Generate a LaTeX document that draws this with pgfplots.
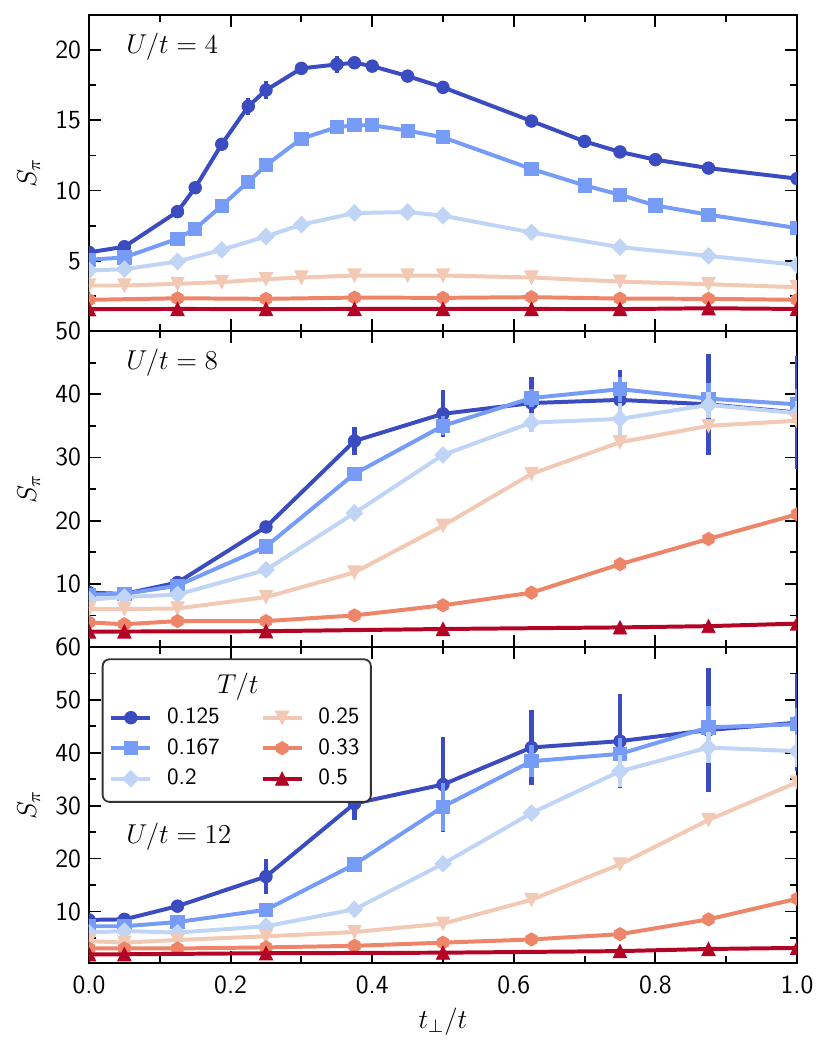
\documentclass[border=0pt]{standalone}
\usepackage{pgfplots}
\pgfplotsset{compat=1.18}
\definecolor{c1}{RGB}{59,76,192}
\definecolor{c2}{RGB}{118,156,248}
\definecolor{c3}{RGB}{192,212,245}
\definecolor{c4}{RGB}{242,201,180}
\definecolor{c5}{RGB}{238,132,104}
\definecolor{c6}{RGB}{180,4,38}
\pgfdeclareplotmark{hexagon*}{%
 \pgfpathmoveto{\pgfqpointpolar{90}{\pgfplotmarksize}}%
 \pgfpathlineto{\pgfqpointpolar{150}{\pgfplotmarksize}}%
 \pgfpathlineto{\pgfqpointpolar{210}{\pgfplotmarksize}}%
 \pgfpathlineto{\pgfqpointpolar{270}{\pgfplotmarksize}}%
 \pgfpathlineto{\pgfqpointpolar{330}{\pgfplotmarksize}}%
 \pgfpathlineto{\pgfqpointpolar{30}{\pgfplotmarksize}}%
 \pgfpathclose\pgfusepathqfillstroke}
\pgfdeclareplotmark{Diamond*}{%
 \pgfpathmoveto{\pgfqpoint{0pt}{\pgfplotmarksize}}%
 \pgfpathlineto{\pgfqpoint{\pgfplotmarksize}{0pt}}%
 \pgfpathlineto{\pgfqpoint{0pt}{-\pgfplotmarksize}}%
 \pgfpathlineto{\pgfqpoint{-\pgfplotmarksize}{0pt}}%
 \pgfpathclose\pgfusepathqfillstroke}
\pgfdeclareplotmark{tridown*}{%
 \pgfpathmoveto{\pgfqpoint{0pt}{-\pgfplotmarksize}}%
 \pgfpathlineto{\pgfqpoint{\pgfplotmarksize}{\pgfplotmarksize}}%
 \pgfpathlineto{\pgfqpoint{-\pgfplotmarksize}{\pgfplotmarksize}}%
 \pgfpathclose\pgfusepathqfillstroke}
\pgfdeclareplotmark{triup*}{%
 \pgfpathmoveto{\pgfqpoint{0pt}{\pgfplotmarksize}}%
 \pgfpathlineto{\pgfqpoint{\pgfplotmarksize}{-\pgfplotmarksize}}%
 \pgfpathlineto{\pgfqpoint{-\pgfplotmarksize}{-\pgfplotmarksize}}%
 \pgfpathclose\pgfusepathqfillstroke}
\pgfplotsset{
 b1/.style={color=c1, line width=1.75pt, mark=*, mark size=2.75pt, mark options={solid, fill=c1, line width=0.4pt, sharp corners}},
 b2/.style={color=c2, line width=1.75pt, mark=square*, mark size=2.9pt, mark options={solid, fill=c2, line width=0.4pt, sharp corners}},
 b3/.style={color=c3, line width=1.75pt, mark=Diamond*, mark size=3.6pt, mark options={solid, fill=c3, line width=0.4pt, sharp corners}},
 b4/.style={color=c4, line width=1.75pt, mark=tridown*, mark size=2.9pt, mark options={solid, fill=c4, line width=0.4pt, sharp corners}},
 b5/.style={color=c5, line width=1.75pt, mark=hexagon*, mark size=2.9pt, mark options={solid, fill=c5, line width=0.4pt, sharp corners}},
 b6/.style={color=c6, line width=1.75pt, mark=triup*, mark size=2.9pt, mark options={solid, fill=c6, line width=0.4pt, sharp corners}},
 eb/.style={/pgfplots/error bars/y dir=both, /pgfplots/error bars/y explicit, /pgfplots/error bars/error mark=none, /pgfplots/error bars/error bar style={line width=1.8pt, solid}},
 panel/.style={
  width=311.52pt, height=139.04pt, scale only axis,
  xmin=0, xmax=1,
  xtick={0,0.2,0.4,0.6,0.8,1.0},
  minor xtick={0.1,0.3,0.5,0.7,0.9},
  tick align=inside,
  major tick length=5.3pt, minor tick length=3pt,
  tick style={black, line width=0.8pt},
  axis line style={line width=0.8pt},
  /pgf/number format/assume math mode=true,
  ticklabel style={font=\sffamily\fontsize{11.5}{13}\selectfont},
  xticklabel style={yshift=-2pt, /pgf/number format/.cd, fixed, fixed zerofill, precision=1},
  ylabel={$S_\pi$},
  ylabel style={at={(axis description cs:-0.085,0.5)}, anchor=center, font=\fontsize{12}{14}\selectfont},
  clip marker paths=true,
  anchor=north west,
 },
}
\begin{document}
\begin{tikzpicture}
\useasboundingbox (-39.16pt,6.6pt) rectangle (326.48pt,-457.6pt);
% ---------- U/t = 4
\begin{axis}[panel, at={(0pt,0pt)}, ymin=0, ymax=22.5,
  ytick={5,10,15,20}, minor ytick={2.5,7.5,12.5,17.5}, xticklabels={}]
\addplot[b1, eb] table[row sep=\\, x=x, y=y, y error=e] {x y e\\
0 5.6 0.15\\ 0.05 6.0 0.15\\ 0.125 8.5 0.15\\ 0.15 10.2 0.15\\ 0.1875 13.3 0.2\\
0.225 16.0 0.6\\ 0.25 17.15 0.65\\ 0.3 18.7 0.45\\ 0.35 18.98 0.6\\ 0.375 19.1 0.35\\
0.4 18.86 0.2\\ 0.45 18.15 0.4\\ 0.5 17.35 0.2\\ 0.625 14.95 0.2\\ 0.7 13.5 0.15\\
0.75 12.75 0.15\\ 0.8 12.2 0.15\\ 0.875 11.6 0.15\\ 1.0 10.85 0.15\\};
\addplot[b2] table[row sep=\\] {x y\\
0 5.07\\ 0.05 5.24\\ 0.125 6.57\\ 0.15 7.28\\ 0.1875 8.92\\ 0.225 10.63\\ 0.25 11.8\\
0.3 13.7\\ 0.35 14.51\\ 0.375 14.65\\ 0.4 14.65\\ 0.45 14.27\\ 0.5 13.79\\ 0.625 11.54\\
0.7 10.37\\ 0.75 9.7\\ 0.8 8.94\\ 0.875 8.28\\ 1.0 7.33\\};
\addplot[b3] table[row sep=\\] {x y\\
0 4.31\\ 0.05 4.4\\ 0.125 4.95\\ 0.1875 5.78\\ 0.25 6.73\\ 0.3 7.57\\ 0.375 8.4\\
0.45 8.47\\ 0.5 8.21\\ 0.625 7.02\\ 0.75 5.97\\ 0.875 5.35\\ 1.0 4.71\\};
\addplot[b4] table[row sep=\\] {x y\\
0 3.24\\ 0.05 3.24\\ 0.125 3.36\\ 0.1875 3.48\\ 0.25 3.69\\ 0.3 3.81\\ 0.375 3.95\\
0.45 3.95\\ 0.5 3.95\\ 0.625 3.81\\ 0.75 3.52\\ 0.875 3.33\\ 1.0 3.12\\};
\addplot[b5] table[row sep=\\] {x y\\
0 2.22\\ 0.125 2.33\\ 0.25 2.29\\ 0.375 2.38\\ 0.5 2.36\\ 0.625 2.41\\ 0.75 2.31\\ 0.875 2.29\\ 1.0 2.22\\};
\addplot[b6] table[row sep=\\] {x y\\
0 1.55\\ 0.125 1.57\\ 0.25 1.56\\ 0.375 1.57\\ 0.5 1.57\\ 0.625 1.57\\ 0.75 1.56\\ 0.875 1.62\\ 1.0 1.57\\};
\node[anchor=west, inner sep=0pt, font=\fontsize{11.5}{14}\selectfont] at (axis description cs:0.052,0.9) {$U/t=4$};
\end{axis}
% ---------- U/t = 8
\begin{axis}[panel, at={(0pt,-139.04pt)}, ymin=0, ymax=50,
  ytick={10,20,30,40,50}, minor ytick={5,15,25,35,45}, xticklabels={}]
\addplot[b1, eb] table[row sep=\\, x=x, y=y, y error=e] {x y e\\
0 8.6 0.3\\ 0.05 8.4 0.2\\ 0.125 10.2 0.3\\ 0.25 19.0 0.4\\ 0.375 32.6 2.2\\
0.5 36.9 3.7\\ 0.625 38.6 4.2\\ 0.75 39.1 4.8\\ 0.875 38.4 8.0\\ 1.0 37.1 9.0\\};
\addplot[b2, eb] table[row sep=\\, x=x, y=y, y error=e] {x y e\\
0 8.3 0.1\\ 0.05 8.4 0.1\\ 0.125 9.7 0.1\\ 0.25 15.9 0.3\\ 0.375 27.4 0.5\\
0.5 35.0 1.5\\ 0.625 39.4 1.5\\ 0.75 40.8 2.0\\ 0.875 39.3 2.5\\ 1.0 38.4 2.5\\};
\addplot[b3, eb] table[row sep=\\, x=x, y=y, y error=e] {x y e\\
0 7.5 0\\ 0.05 7.9 0\\ 0.125 8.3 0\\ 0.25 12.2 0.2\\ 0.375 21.2 0.4\\
0.5 30.4 0.8\\ 0.625 35.5 1.5\\ 0.75 36.1 2.5\\ 0.875 38.3 2.0\\ 1.0 37.0 2.0\\};
\addplot[b4] table[row sep=\\] {x y\\
0 6.0\\ 0.05 6.0\\ 0.125 6.1\\ 0.25 7.9\\ 0.375 11.8\\ 0.5 19.2\\ 0.625 27.4\\ 0.75 32.4\\ 0.875 35.0\\ 1.0 35.8\\};
\addplot[b5] table[row sep=\\] {x y\\
0 3.9\\ 0.05 3.6\\ 0.125 4.1\\ 0.25 4.1\\ 0.375 5.0\\ 0.5 6.6\\ 0.625 8.6\\ 0.75 13.1\\ 0.875 17.1\\ 1.0 21.0\\};
\addplot[b6] table[row sep=\\] {x y\\
0 2.45\\ 0.05 2.45\\ 0.25 2.5\\ 0.5 2.85\\ 0.75 3.1\\ 0.875 3.3\\ 1.0 3.7\\};
\node[anchor=west, inner sep=0pt, font=\fontsize{11.5}{14}\selectfont] at (axis description cs:0.052,0.9) {$U/t=8$};
\end{axis}
% ---------- U/t = 12
\begin{axis}[panel, at={(0pt,-278.08pt)}, ymin=0.25, ymax=60,
  ytick={10,20,30,40,50,60}, minor ytick={5,15,25,35,45,55},
  xlabel={$t_\perp/t$},
  xlabel style={at={(axis description cs:0.5,0)}, anchor=center, yshift=-25.8pt, font=\fontsize{12}{14}\selectfont},
  legend columns=2,
  legend cell align=left,
  legend style={at={(0.018,0.964)}, anchor=north west, draw=black!80, line width=0.8pt,
    rounded corners=3pt, fill=white, font=\sffamily\fontsize{10.2}{12}\selectfont,
    row sep=1pt, inner xsep=3pt, inner ysep=4pt, nodes={sharp corners},
    /tikz/every odd column/.append style={column sep=4.5pt},
    /tikz/every even column/.append style={column sep=16pt}}]
\addplot[b1, eb, forget plot] table[row sep=\\, x=x, y=y, y error=e] {x y e\\
0 8.4 0.3\\ 0.05 8.5 0.3\\ 0.125 11.0 0.4\\ 0.25 16.6 3.3\\ 0.375 30.4 3.2\\
0.5 34.0 9.0\\ 0.625 41.0 7.1\\ 0.75 42.2 8.9\\ 0.875 44.3 11.8\\ 1.0 45.7 9.2\\};
\addplot[b2, eb, forget plot] table[row sep=\\, x=x, y=y, y error=e] {x y e\\
0 7.2 0.1\\ 0.05 7.2 0.1\\ 0.125 8.0 0.1\\ 0.25 10.3 0.2\\ 0.375 18.9 0.3\\
0.5 29.8 4.5\\ 0.625 38.4 3.0\\ 0.75 39.8 3.0\\ 0.875 44.8 4.0\\ 1.0 45.4 3.0\\};
\addplot[b3, eb, forget plot] table[row sep=\\, x=x, y=y, y error=e] {x y e\\
0 6.0 0\\ 0.05 6.3 0\\ 0.125 6.0 0\\ 0.25 7.2 0\\ 0.375 10.4 0.3\\
0.5 19.0 0.5\\ 0.625 28.6 1.0\\ 0.75 36.5 3.0\\ 0.875 41.0 3.0\\ 1.0 40.3 3.0\\};
\addplot[b4, forget plot] table[row sep=\\] {x y\\
0 4.4\\ 0.05 4.1\\ 0.125 4.6\\ 0.25 5.3\\ 0.375 6.1\\ 0.5 7.7\\ 0.625 12.2\\ 0.75 18.9\\ 0.875 27.3\\ 1.0 34.4\\};
\addplot[b5, forget plot] table[row sep=\\] {x y\\
0 3.0\\ 0.05 3.0\\ 0.125 3.0\\ 0.25 3.2\\ 0.375 3.5\\ 0.5 4.1\\ 0.625 4.7\\ 0.75 5.7\\ 0.875 8.5\\ 1.0 12.4\\};
\addplot[b6, forget plot] table[row sep=\\] {x y\\
0 1.9\\ 0.05 1.9\\ 0.25 2.1\\ 0.5 2.2\\ 0.75 2.5\\ 0.875 2.9\\ 1.0 3.1\\};
\node[anchor=west, inner sep=0pt, font=\fontsize{11.5}{14}\selectfont] at (axis description cs:0.052,0.4) {$U/t=12$};
\addlegendimage{empty legend}\addlegendentry{\makebox[0pt][l]{\hspace{22pt}\fontsize{11.5}{14}\selectfont$T/t$}}
\addlegendimage{empty legend}\addlegendentry{\phantom{0}}
\addlegendimage{b1}\addlegendentry{0.125}
\addlegendimage{b4}\addlegendentry{0.25}
\addlegendimage{b2}\addlegendentry{0.167}
\addlegendimage{b5}\addlegendentry{0.33}
\addlegendimage{b3}\addlegendentry{0.2}
\addlegendimage{b6}\addlegendentry{0.5}
\end{axis}
\end{tikzpicture}
\end{document}
